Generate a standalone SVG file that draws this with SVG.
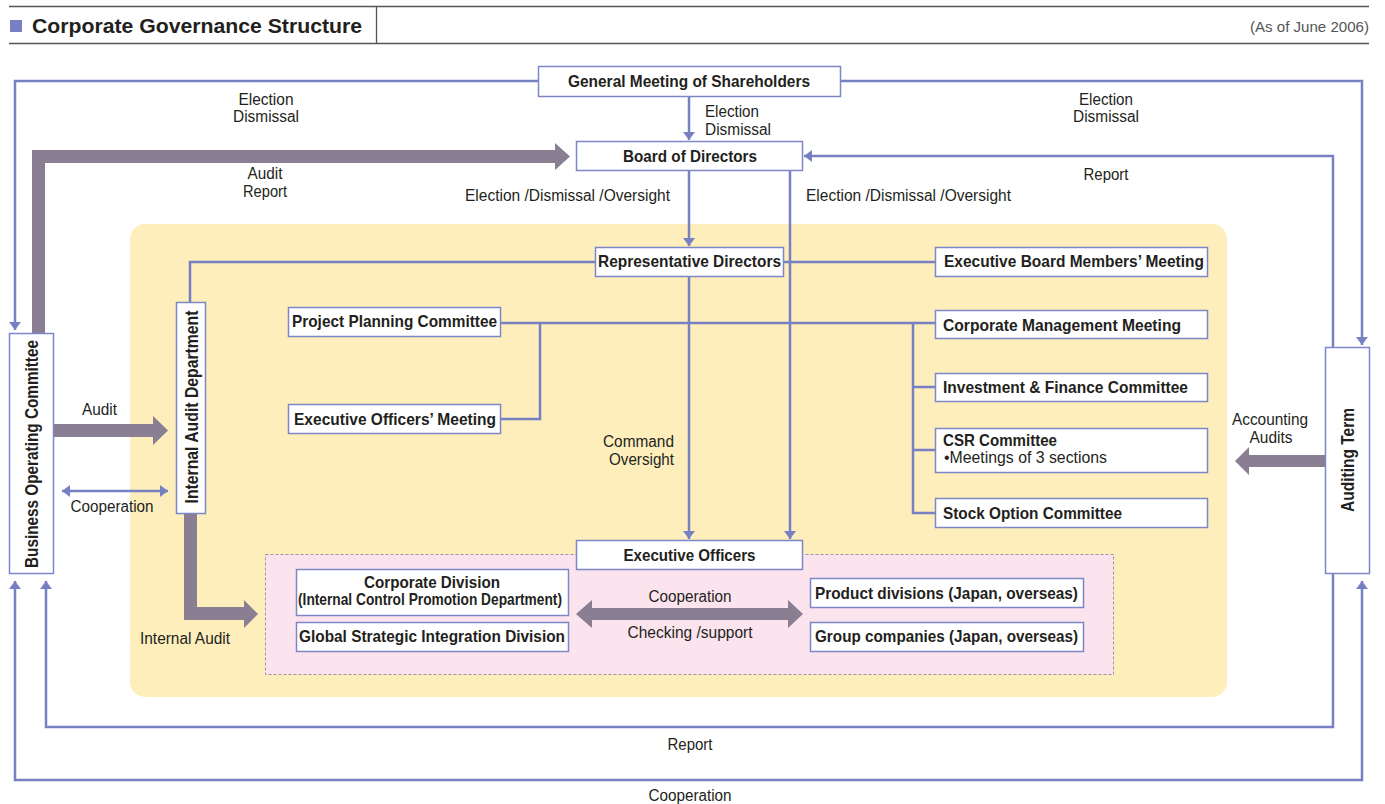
<svg xmlns="http://www.w3.org/2000/svg" width="1385" height="804" viewBox="0 0 1385 804">
  <style>
    .box { fill: #ffffff; stroke: #7d86c6; stroke-width: 1.5; }
    .ln { fill: none; stroke: #7880c4; stroke-width: 2.5; }
    .fat { fill: #8a7e92; }
    .nb { font-family: "Liberation Sans", Arial, sans-serif; font-weight: bold; font-size: 16.5px; fill: #231f20; }
    .vt { font-size: 17.5px; }
    .lb { font-family: "Liberation Sans", Arial, sans-serif; font-size: 16px; fill: #231f20; }
    .c { text-anchor: middle; }
    .r { text-anchor: end; }
  </style>
  <defs>
    <marker id="ah" viewBox="0 0 10 10" refX="10" refY="5" markerWidth="8" markerHeight="12" markerUnits="userSpaceOnUse" orient="auto-start-reverse" preserveAspectRatio="none">
      <path d="M0,0 L10,5 L0,10 Z" fill="#7880c4"/>
    </marker>
  </defs>

  <!-- heading band -->
  <g id="heading">
    <line x1="9" y1="6.5" x2="1369" y2="6.5" stroke="#555" stroke-width="1.3"/>
    <line x1="9" y1="43.5" x2="1369" y2="43.5" stroke="#555" stroke-width="1.3"/>
    <line x1="376.5" y1="6" x2="376.5" y2="44" stroke="#555" stroke-width="1.3"/>
    <rect x="10" y="20" width="12" height="12" fill="#7880c4"/>
    <text x="32" y="33" font-family="Liberation Sans, Arial, sans-serif" font-weight="bold" font-size="20" fill="#231f20" textLength="330" lengthAdjust="spacingAndGlyphs">Corporate Governance Structure</text>
    <text x="1369" y="32" text-anchor="end" font-family="Liberation Sans, Arial, sans-serif" font-size="14.5" fill="#555" textLength="119" lengthAdjust="spacingAndGlyphs">(As of June 2006)</text>
  </g>

  <!-- executive area and internal-control area -->
  <rect id="exec-area" x="130" y="224" width="1097" height="473" rx="15" fill="#fdeebc"/>
  <rect id="control-area" x="265.5" y="554.5" width="848" height="120" fill="#fce4ef" stroke="#9d93ad" stroke-width="1" stroke-dasharray="3,2"/>

  <!-- connectors -->
  <g id="connectors">
    <path class="ln" d="M538,81 H15 V330" marker-end="url(#ah)"/>
    <path class="ln" d="M840,81 H1362 V345" marker-end="url(#ah)"/>
    <path class="ln" d="M689,96 V140" marker-end="url(#ah)"/>
    <path class="ln" d="M1333,347 V156 H804" marker-end="url(#ah)"/>
    <path class="ln" d="M689,171 V246" marker-end="url(#ah)"/>
    <path class="ln" d="M790,171 V539" marker-end="url(#ah)"/>
    <path class="ln" d="M689,277 V539" marker-end="url(#ah)"/>
    <path class="ln" d="M595,262 H190 V302"/>
    <path class="ln" d="M784,262 H935"/>
    <path class="ln" d="M501,323 H935"/>
    <path class="ln" d="M540,323 V419 H501"/>
    <path class="ln" d="M913,323 V513 H935 M913,387 H935 M913,450 H935"/>
    <path class="ln" d="M62,491 H168" marker-start="url(#ah)" marker-end="url(#ah)"/>
    <path class="ln" d="M1333,574 V727 H46 V581" marker-end="url(#ah)"/>
    <path class="ln" d="M15,581 V780 H1362 V581" marker-start="url(#ah)" marker-end="url(#ah)"/>

    <!-- broad arrows -->
    <path class="fat" d="M32,333 V150 H555 V143 L570,156.5 L555,170 V163 H45 V333 Z"/>
    <path class="fat" d="M54,424 H153 V416 L168,430.5 L153,445 V437 H54 Z"/>
    <path class="fat" d="M184,513 V620 H244 V628 L258,614 L244,600 V607 H197 V513 Z"/>
    <path class="fat" d="M1325,455 H1249 V447 L1235,461 L1249,475 V467 H1325 Z"/>
    <path class="fat" d="M576,614 L592,600 V608 H788 V600 L803,614 L788,628 V620 H592 V628 Z"/>
  </g>

  <!-- connector labels -->
  <g id="labels" class="lb">
    <text class="c" x="266" y="105" textLength="55" lengthAdjust="spacingAndGlyphs">Election</text>
    <text class="c" x="266" y="122" textLength="66" lengthAdjust="spacingAndGlyphs">Dismissal</text>
    <text x="705" y="117" textLength="54" lengthAdjust="spacingAndGlyphs">Election</text>
    <text x="705" y="135" textLength="66" lengthAdjust="spacingAndGlyphs">Dismissal</text>
    <text class="c" x="1106" y="105" textLength="54" lengthAdjust="spacingAndGlyphs">Election</text>
    <text class="c" x="1106" y="122" textLength="66" lengthAdjust="spacingAndGlyphs">Dismissal</text>
    <text class="c" x="1106" y="180" textLength="45" lengthAdjust="spacingAndGlyphs">Report</text>
    <text class="c" x="265" y="179" textLength="35" lengthAdjust="spacingAndGlyphs">Audit</text>
    <text class="c" x="265" y="197" textLength="44" lengthAdjust="spacingAndGlyphs">Report</text>
    <text x="465" y="201" textLength="205" lengthAdjust="spacingAndGlyphs">Election /Dismissal /Oversight</text>
    <text x="806" y="201" textLength="205" lengthAdjust="spacingAndGlyphs">Election /Dismissal /Oversight</text>
    <text class="r" x="674" y="447" textLength="71" lengthAdjust="spacingAndGlyphs">Command</text>
    <text class="r" x="674" y="465" textLength="65" lengthAdjust="spacingAndGlyphs">Oversight</text>
    <text class="c" x="99.5" y="415" textLength="35" lengthAdjust="spacingAndGlyphs">Audit</text>
    <text class="c" x="112" y="512" textLength="83" lengthAdjust="spacingAndGlyphs">Cooperation</text>
    <text class="c" x="185" y="644" textLength="90" lengthAdjust="spacingAndGlyphs">Internal Audit</text>
    <text class="c" x="690" y="602" textLength="83" lengthAdjust="spacingAndGlyphs">Cooperation</text>
    <text class="c" x="690" y="638" textLength="125" lengthAdjust="spacingAndGlyphs">Checking /support</text>
    <text class="c" x="1270" y="425" textLength="76" lengthAdjust="spacingAndGlyphs">Accounting</text>
    <text class="c" x="1271" y="443" textLength="43" lengthAdjust="spacingAndGlyphs">Audits</text>
    <text class="c" x="690" y="750" textLength="45" lengthAdjust="spacingAndGlyphs">Report</text>
    <text class="c" x="690" y="801" textLength="83" lengthAdjust="spacingAndGlyphs">Cooperation</text>
  </g>

  <!-- nodes -->
  <g id="general-meeting">
    <rect class="box" x="538.5" y="66.5" width="302" height="30"/>
    <text class="nb c" x="689" y="87" textLength="242" lengthAdjust="spacingAndGlyphs">General Meeting of Shareholders</text>
  </g>
  <g id="board">
    <rect class="box" x="576.5" y="141.5" width="226" height="29"/>
    <text class="nb c" x="690" y="162" textLength="134" lengthAdjust="spacingAndGlyphs">Board of Directors</text>
  </g>
  <g id="representative-directors">
    <rect class="box" x="595.5" y="247.5" width="188" height="29"/>
    <text class="nb c" x="689.5" y="267" textLength="183" lengthAdjust="spacingAndGlyphs">Representative Directors</text>
  </g>
  <g id="executive-board-members-meeting">
    <rect class="box" x="935.5" y="247.5" width="272" height="29"/>
    <text class="nb" x="944" y="267" textLength="260" lengthAdjust="spacingAndGlyphs">Executive Board Members’ Meeting</text>
  </g>
  <g id="corporate-management-meeting">
    <rect class="box" x="935.5" y="310.5" width="272" height="28"/>
    <text class="nb" x="943" y="331" textLength="238" lengthAdjust="spacingAndGlyphs">Corporate Management Meeting</text>
  </g>
  <g id="investment-finance-committee">
    <rect class="box" x="935.5" y="373.5" width="272" height="28"/>
    <text class="nb" x="943" y="393" textLength="245" lengthAdjust="spacingAndGlyphs">Investment &amp; Finance Committee</text>
  </g>
  <g id="csr-committee">
    <rect class="box" x="935.5" y="428.5" width="272" height="44"/>
    <text class="nb" x="943" y="446" textLength="114" lengthAdjust="spacingAndGlyphs">CSR Committee</text>
    <text class="lb" x="944" y="463" textLength="163" lengthAdjust="spacingAndGlyphs">•Meetings of 3 sections</text>
  </g>
  <g id="stock-option-committee">
    <rect class="box" x="935.5" y="498.5" width="272" height="29"/>
    <text class="nb" x="943" y="519" textLength="179" lengthAdjust="spacingAndGlyphs">Stock Option Committee</text>
  </g>
  <g id="project-planning-committee">
    <rect class="box" x="288.5" y="307.5" width="212" height="29"/>
    <text class="nb" x="292" y="327" textLength="205" lengthAdjust="spacingAndGlyphs">Project Planning Committee</text>
  </g>
  <g id="executive-officers-meeting">
    <rect class="box" x="288.5" y="404.5" width="212" height="29"/>
    <text class="nb" x="294" y="425" textLength="202" lengthAdjust="spacingAndGlyphs">Executive Officers’ Meeting</text>
  </g>
  <g id="internal-audit-department">
    <rect class="box" x="176.5" y="302.5" width="29" height="211"/>
    <text class="nb vt c" transform="translate(197.5,407) rotate(-90)" textLength="193" lengthAdjust="spacingAndGlyphs">Internal Audit Department</text>
  </g>
  <g id="business-operating-committee">
    <rect class="box" x="9.5" y="333.5" width="44" height="240"/>
    <text class="nb vt c" transform="translate(38,454) rotate(-90)" textLength="228" lengthAdjust="spacingAndGlyphs">Business Operating Committee</text>
  </g>
  <g id="auditing-term">
    <rect class="box" x="1325.5" y="347.5" width="44" height="226"/>
    <text class="nb vt c" transform="translate(1354,460) rotate(-90)" textLength="104" lengthAdjust="spacingAndGlyphs">Auditing Term</text>
  </g>
  <g id="executive-officers">
    <rect class="box" x="576.5" y="540.5" width="226" height="29"/>
    <text class="nb c" x="689.5" y="561" textLength="132" lengthAdjust="spacingAndGlyphs">Executive Officers</text>
  </g>
  <g id="corporate-division">
    <rect class="box" x="296.5" y="569.5" width="272" height="46"/>
    <text class="nb c" x="432" y="588" textLength="136" lengthAdjust="spacingAndGlyphs">Corporate Division</text>
    <text class="nb c" x="430" y="605" font-size="14.5" textLength="264" lengthAdjust="spacingAndGlyphs">(Internal Control Promotion Department)</text>
  </g>
  <g id="global-strategic-integration-division">
    <rect class="box" x="296.5" y="622.5" width="272" height="29"/>
    <text class="nb c" x="432" y="642" textLength="266" lengthAdjust="spacingAndGlyphs">Global Strategic Integration Division</text>
  </g>
  <g id="product-divisions">
    <rect class="box" x="810.5" y="578.5" width="273" height="29"/>
    <text class="nb c" x="946.5" y="599" textLength="263" lengthAdjust="spacingAndGlyphs">Product divisions (Japan, overseas)</text>
  </g>
  <g id="group-companies">
    <rect class="box" x="810.5" y="622.5" width="273" height="29"/>
    <text class="nb c" x="946.5" y="642" textLength="263" lengthAdjust="spacingAndGlyphs">Group companies (Japan, overseas)</text>
  </g>
</svg>
